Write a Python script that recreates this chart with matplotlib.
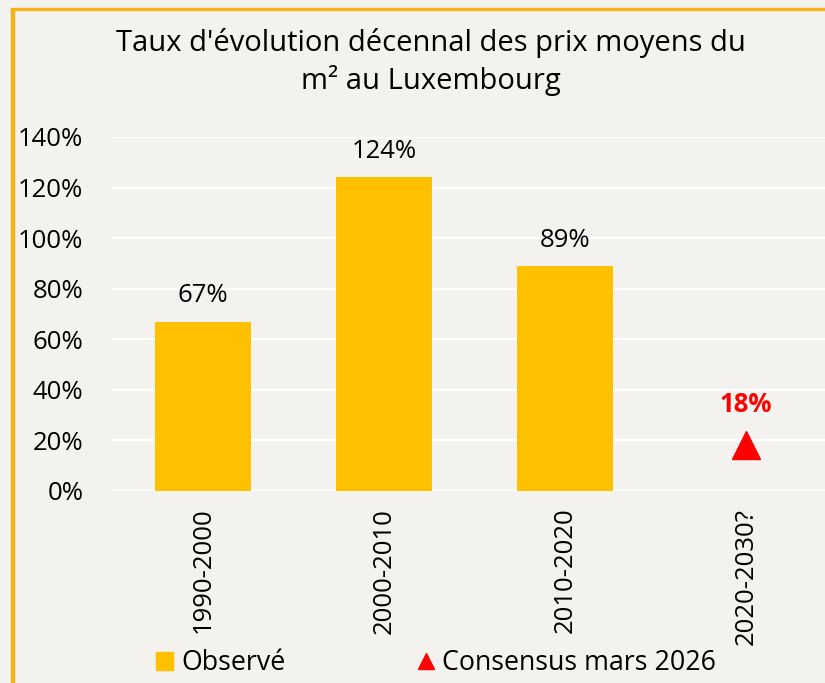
import matplotlib.pyplot as plt
import matplotlib.ticker as mtick
from matplotlib.lines import Line2D
from matplotlib.patches import Patch
import numpy as np

# Data
periods = ["1990-2000", "2000-2010", "2010-2020", "2020-2030?"]
observed = [67, 124, 89]          # % evolution per decade (observed)
consensus = [18]                  # consensus forecast for 2020-2030
yticks = [0, 20, 40, 60, 80, 100, 120, 140]

bg = "#F3F2EE"
gold = "#FFC000"
border = "#F7B016"

plt.rcParams['font.family'] = ['Open Sans', 'DejaVu Sans']

fig = plt.figure(figsize=(8.25, 6.83), dpi=100, facecolor=bg)

# Frame lines (top and left edge of the card)
fig.add_artist(Line2D([13 / 825, 13 / 825], [0, 1 - 8 / 683], color=border, lw=3.2,
                      transform=fig.transFigure, solid_capstyle="butt"))
fig.add_artist(Line2D([11 / 825, 1], [1 - 9 / 683, 1 - 9 / 683], color=border, lw=2.4,
                      transform=fig.transFigure, solid_capstyle="butt"))

# Axes: plot area goes slightly past the right edge of the figure
left = 112.5 / 825
width = (836.5 - 112.5) / 825
bottom = 1 - 491 / 683
height = (491 - 137) / 683
ax = fig.add_axes([left, bottom, width, height], facecolor=bg)

x = np.arange(len(periods))
ax.bar(x[:3], observed, width=0.53, color=gold, zorder=3)
ax.plot(x[3:], consensus, marker="^", color="red", markersize=20, linestyle="none", zorder=3)

for xi, v in zip(x[:3], observed):
    ax.annotate(f"{v}%", (xi, v), xytext=(0, 14), textcoords="offset points",
                ha="center", va="baseline", fontsize=18.5)
for xi, v in zip(x[3:], consensus):
    ax.annotate(f"{v}%", (xi, v), xytext=(0, 24), textcoords="offset points",
                ha="center", va="baseline", fontsize=18.5, color="red", fontweight="bold")

ax.set_xlim(-0.5, 3.5)
ax.set_ylim(0, 140)
ax.set_yticks(yticks)
ax.yaxis.set_major_formatter(mtick.PercentFormatter(decimals=0))
ax.set_xticks(x)
ax.set_xticklabels(periods, rotation=90)
ax.tick_params(axis="y", length=0, pad=21, labelsize=18.5)
ax.tick_params(axis="x", length=0, pad=12, labelsize=18.5)
ax.grid(axis="y", color="white", lw=1.6, zorder=0)
for s in ax.spines.values():
    s.set_visible(False)

fig.text(431 / 825, 1 - 62 / 683, "Taux d'évolution décennal des prix moyens du\nm² au Luxembourg",
         ha="center", va="center", fontsize=21, linespacing=1.25)

handles = [Patch(color=gold, label="Observé"),
           Line2D([], [], marker="^", color="red", linestyle="none", markersize=11,
                  label="Consensus mars 2026")]
fig.legend(handles=handles, loc="center", bbox_to_anchor=(436 / 825, 1 - 663 / 683), ncol=2,
           frameon=False, fontsize=19.3, handlelength=0.65, handleheight=0.65,
           handletextpad=0.3, columnspacing=4.9)

plt.savefig("out.png", dpi=100, facecolor=bg)
